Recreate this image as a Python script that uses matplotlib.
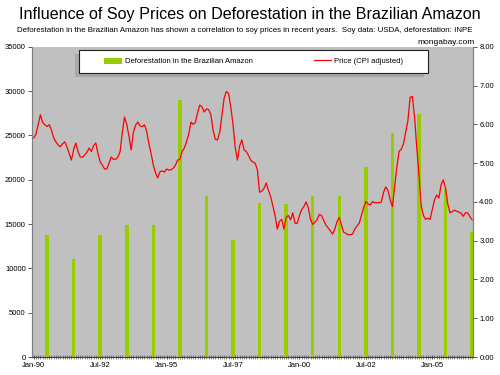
import numpy as np
import matplotlib
matplotlib.use("Agg")
import matplotlib.pyplot as plt
from matplotlib.patches import Patch, Rectangle
from matplotlib.lines import Line2D

plt.rcParams['font.family'] = ['Liberation Sans', 'DejaVu Sans']

# annual deforestation (km2), INPE, drawn at July of each year
years = list(range(1990, 2007))
deforestation = [13730, 11030, 13786, 14896, 14896, 29059, 18161, 13227, 17383,
                 17259, 18226, 18165, 21394, 25247, 27423, 18846, 14109]

# monthly soy price (CPI adjusted), Jan-90 .. Jul-06
price = [
    5.65, 5.75, 6.00, 6.25, 6.05, 5.99, 5.95, 5.99, 5.85, 5.65, 5.55, 5.47,  # 1990
    5.42, 5.50, 5.55, 5.42, 5.25, 5.08, 5.35, 5.52, 5.30, 5.16, 5.15, 5.21,  # 1991
    5.28, 5.39, 5.30, 5.45, 5.52, 5.25, 5.03, 4.95, 4.85, 4.85, 5.00, 5.16,  # 1992
    5.10, 5.10, 5.16, 5.30, 5.80, 6.19, 6.00, 5.70, 5.34, 5.80, 5.98, 6.06,  # 1993
    5.96, 5.94, 5.99, 5.82, 5.50, 5.25, 4.95, 4.75, 4.62, 4.78, 4.80, 4.77,  # 1994
    4.85, 4.82, 4.83, 4.87, 4.95, 5.08, 5.10, 5.30, 5.39, 5.55, 5.75, 6.06,  # 1995
    6.00, 6.05, 6.30, 6.50, 6.45, 6.32, 6.40, 6.38, 6.25, 5.85, 5.62, 5.60,  # 1996
    5.80, 6.25, 6.68, 6.85, 6.80, 6.45, 6.00, 5.40, 5.08, 5.45, 5.60, 5.34,  # 1997
    5.30, 5.20, 5.08, 5.03, 5.00, 4.83, 4.25, 4.28, 4.35, 4.49, 4.30, 4.14,  # 1998
    3.90, 3.65, 3.30, 3.50, 3.55, 3.30, 3.60, 3.65, 3.54, 3.72, 3.45, 3.45,  # 1999
    3.65, 3.80, 3.88, 4.00, 3.85, 3.55, 3.42, 3.48, 3.54, 3.68, 3.65, 3.52,  # 2000
    3.40, 3.33, 3.25, 3.17, 3.30, 3.50, 3.60, 3.40, 3.22, 3.19, 3.15, 3.16,  # 2001
    3.17, 3.30, 3.38, 3.45, 3.65, 3.85, 4.01, 3.95, 3.92, 4.01, 3.98, 3.98,  # 2002
    3.98, 4.00, 4.25, 4.39, 4.30, 4.05, 3.88, 4.40, 4.90, 5.30, 5.36, 5.50,  # 2003
    5.80, 6.10, 6.70, 6.72, 6.20, 5.40, 4.70, 3.90, 3.65, 3.55, 3.58, 3.55,  # 2004
    3.80, 4.05, 4.18, 4.10, 4.45, 4.57, 4.35, 3.95, 3.72, 3.75, 3.79, 3.76,  # 2005
    3.74, 3.71, 3.63, 3.72, 3.72, 3.62, 3.54,                                # 2006
]

tick_labels = ['Jan-90', 'Jul-92', 'Jan-95', 'Jul-97', 'Jan-00', 'Jul-02', 'Jan-05']

BAR_GREEN = '#99CC00'
LINE_RED = '#FF0000'
PLOT_BG = '#C0C0C0'

bar_months = [6 + 12 * (y - 1990) for y in years]
months = np.arange(len(price))

fig = plt.figure(figsize=(5, 3.75), dpi=100, facecolor='white')
ax = fig.add_axes([0.064, 0.048, 0.882, 0.827])
ax.set_facecolor(PLOT_BG)

ax.bar(bar_months, deforestation, width=1.6, color=BAR_GREEN, zorder=2)
ax.set_ylim(0, 35000)
ax.set_yticks(range(0, 35001, 5000))
ax.set_xlim(-0.8, 198.4)
ax.set_xticks([i * 30 for i in range(len(tick_labels))])
ax.set_xticklabels(tick_labels)
ax.set_xticks(months, minor=True)

ax2 = ax.twinx()
ax2.plot(months, price, color=LINE_RED, lw=0.9, zorder=3)
ax2.set_ylim(0, 8)
ax2.set_yticks(range(0, 9))
ax2.set_yticklabels([f'{v:.2f}' for v in range(0, 9)])

for a in (ax, ax2):
    a.spines['top'].set_visible(False)
    a.spines['left'].set_color('#808080')
    a.spines['right'].set_color('#808080')
    a.spines['bottom'].set_color('#404040')
ax.tick_params(axis='y', labelsize=5.5, length=3, width=0.6, color='#404040', pad=1.5)
ax2.tick_params(axis='y', labelsize=5.5, length=3, width=0.6, color='#404040', pad=1.5)
ax.tick_params(axis='x', which='major', labelsize=5.5, length=2.5, width=0.6,
               direction='inout', color='#404040', pad=2)
ax.tick_params(axis='x', which='minor', length=2.5, width=0.4,
               direction='inout', color='#404040')

# legend box with a small offset shadow (Excel style)
box = (0.107, 0.916, 0.791, 0.074)
ax2.add_patch(Rectangle((box[0] - 0.009, box[1] - 0.013), box[2], box[3],
                        transform=ax2.transAxes, facecolor='#a8a8a8',
                        edgecolor='none', zorder=9, clip_on=False))
ax2.add_patch(Rectangle((box[0], box[1]), box[2], box[3],
                        transform=ax2.transAxes, facecolor='white',
                        edgecolor='#202020', lw=0.8, zorder=10, clip_on=False))
handles = [Patch(facecolor=BAR_GREEN, edgecolor='none'),
           Line2D([], [], color=LINE_RED, lw=0.9)]
labels = ['Deforestation in the Brazilian Amazon', 'Price (CPI adjusted)']
leg = ax2.legend(handles, labels, loc='center', ncol=2,
                 bbox_to_anchor=(box[0] + box[2] / 2, box[1] + box[3] / 2),
                 fontsize=5.5, frameon=False, borderaxespad=0,
                 handlelength=2.3, handleheight=0.8, handletextpad=0.4,
                 columnspacing=8.0)
leg.set_zorder(11)

fig.text(0.5, 0.962, 'Influence of Soy Prices on Deforestation in the Brazilian Amazon',
         ha='center', va='center', fontsize=11.6)
fig.text(0.49, 0.92, 'Deforestation in the Brazilian Amazon has shown a correlation to soy '
         'prices in recent years.  Soy data: USDA, deforestation: INPE',
         ha='center', va='center', fontsize=5.65)
fig.text(0.95, 0.888, 'mongabay.com', ha='right', va='center', fontsize=6)

fig.savefig('out.png', dpi=100, facecolor='white')
